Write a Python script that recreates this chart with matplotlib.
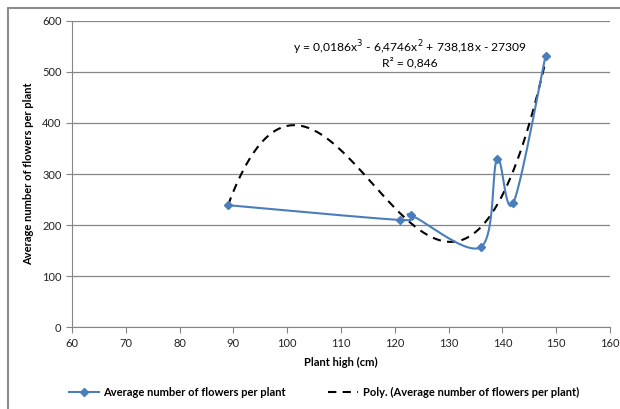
import numpy as np
import matplotlib
matplotlib.use("Agg")
import matplotlib.pyplot as plt
from matplotlib.patches import Rectangle

# plant height (cm) vs average number of flowers per plant
plant_high = [89, 121, 123, 136, 139, 142, 148]
flowers = [239, 210, 219, 157, 329, 243, 531]

series_name = "Average number of flowers per plant"
trend_name = "Poly. (Average number of flowers per plant)"
equation = "y = 0,0186x$^3$ - 6,4746x$^2$ + 738,18x - 27309"
r_squared = "R² = 0,846"

blue = "#4A7EBB"
grid_col = "#868686"

plt.rcParams['font.family'] = ['Lato', 'DejaVu Sans']


def smooth_line(xs, ys, steps=40):
    # Catmull-Rom style bezier, same idea as a spreadsheet "smoothed line"
    xs = np.asarray(xs, float)
    ys = np.asarray(ys, float)
    n = len(xs)
    px = np.concatenate([[xs[0]], xs, [xs[-1]]])
    py = np.concatenate([[ys[0]], ys, [ys[-1]]])
    outx, outy = [], []
    t = np.linspace(0, 1, steps)
    for i in range(n - 1):
        p0 = np.array([px[i + 1], py[i + 1]])
        p3 = np.array([px[i + 2], py[i + 2]])
        c1 = p0 + (np.array([px[i + 2], py[i + 2]]) - np.array([px[i], py[i]])) / 6
        c2 = p3 - (np.array([px[i + 3], py[i + 3]]) - np.array([px[i + 1], py[i + 1]])) / 6
        b = ((1 - t) ** 3)[:, None] * p0 + (3 * (1 - t) ** 2 * t)[:, None] * c1 \
            + (3 * (1 - t) * t ** 2)[:, None] * c2 + (t ** 3)[:, None] * p3
        outx.extend(b[:, 0])
        outy.extend(b[:, 1])
    return outx, outy


fig = plt.figure(figsize=(6.2, 4.09), dpi=100)
fig.patches.append(Rectangle((8 / 620, -0.05), 1.2, 1 - 8 / 409 + 0.05,
                             transform=fig.transFigure, fill=False,
                             edgecolor="#8c8c8c", linewidth=1.5))

ax = fig.add_axes([0.116, 0.200, 0.868, 0.749])

# cubic trendline fitted to the points
coef = np.polyfit(plant_high, flowers, 3)
xt = np.linspace(min(plant_high), max(plant_high), 300)
ax.plot(xt, np.polyval(coef, xt), color="black", linestyle=(0, (4, 3)),
        linewidth=1.5, zorder=3, label=trend_name)

sx, sy = smooth_line(plant_high, flowers)
ax.plot(sx, sy, color=blue, linewidth=1.5, zorder=4)
ax.plot(plant_high, flowers, linestyle="none", marker="D", markersize=4.5,
        color=blue, zorder=5)
h_series, = ax.plot([], [], color=blue, linewidth=1.5, marker="D",
                    markersize=4.5, label=series_name)

ax.set_xlim(60, 160)
ax.set_ylim(0, 600)
ax.set_xticks(range(60, 161, 10))
ax.set_yticks(range(0, 601, 100))
ax.yaxis.grid(True, color=grid_col, linewidth=0.9)
ax.set_axisbelow(True)
for s in ["top", "right"]:
    ax.spines[s].set_visible(False)
for s in ["left", "bottom"]:
    ax.spines[s].set_color(grid_col)
ax.tick_params(axis="both", colors=grid_col, labelcolor="#222222",
               labelsize=8, length=4, direction="out")

ax.set_xlabel("Plant high (cm)", fontsize=8, fontweight="bold", labelpad=6)
ax.set_ylabel("Average number of flowers per plant", fontsize=8,
              fontweight="bold", labelpad=6)

ax.text(122.8, 548, equation, ha="center", va="center", fontsize=8.7)
ax.text(122.8, 519, r_squared, ha="center", va="center", fontsize=8.7)

handles, labels = ax.get_legend_handles_labels()
order = [labels.index(series_name), labels.index(trend_name)]
fig.legend([handles[i] for i in order], [labels[i] for i in order],
           loc="center left", bbox_to_anchor=(0.095, 0.04), ncol=2,
           frameon=False, prop={"size": 8, "weight": "bold"},
           handlelength=2.7, handletextpad=0.4, columnspacing=3.8)

fig.savefig("out.png", dpi=100)
